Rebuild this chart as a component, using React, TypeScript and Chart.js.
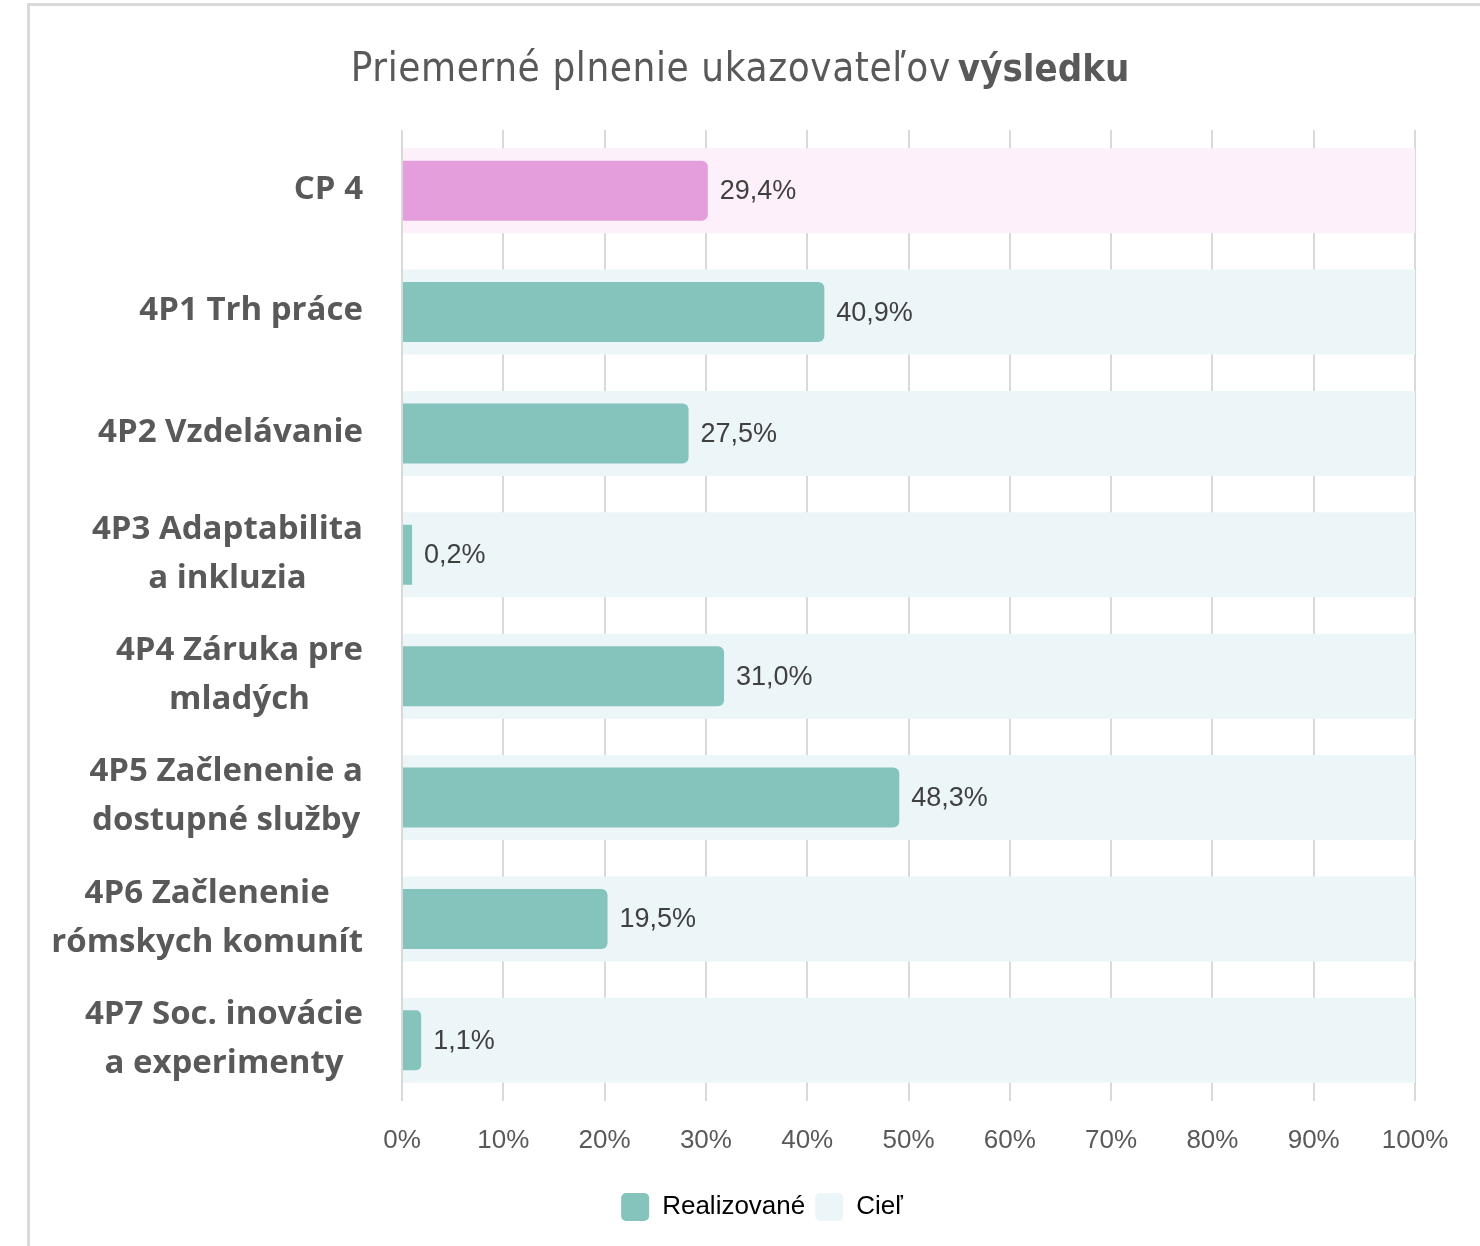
import React, { useEffect, useRef } from 'react';
import { Chart, registerables } from 'chart.js';

Chart.register(...registerables);

// ---------- DATA ----------
const categories: string[][] = [
  ['CP 4'],
  ['4P1 Trh práce'],
  ['4P2 Vzdelávanie'],
  ['4P3 Adaptabilita', 'a inkluzia'],
  ['4P4 Záruka pre', 'mladých'],
  ['4P5 Začlenenie a', 'dostupné služby'],
  ['4P6 Začlenenie', 'rómskych komunít'],
  ['4P7 Soc. inovácie', 'a experimenty'],
];
const realizedValues = [29.4, 40.9, 27.5, 0.2, 31.0, 48.3, 19.5, 1.1];
const targetValues = [100, 100, 100, 100, 100, 100, 100, 100];
const seriesNames = ['Realizované', 'Cieľ'];
const titleNormal = 'Priemerné plnenie ukazovateľov';
const titleBold = 'výsledku';

// ---------- STYLE ----------
const TEAL = '#85C4BD';
const PINK = '#E49EDC';
const TEAL_BG = '#ECF5F8';
const PINK_BG = '#FDF0FA';
const realizedColors = realizedValues.map((_, i) => (i === 0 ? PINK : TEAL));
const targetColors = targetValues.map((_, i) => (i === 0 ? PINK_BG : TEAL_BG));

const TITLE_FONT = "'Liberation Sans Narrow', 'DejaVu Sans Condensed', 'Liberation Sans', sans-serif";
const LABEL_FONT = "'Open Sans', 'Noto Sans', sans-serif";
const NUM_FONT = "'Liberation Sans', Arial, sans-serif";

const fmt = (v: number) => v.toFixed(1).replace('.', ',') + '%';

const titlePlugin = {
  id: 'customTitle',
  afterDraw(chart: any) {
    const ctx = chart.ctx;
    ctx.save();
    ctx.fillStyle = '#595959';
    ctx.textBaseline = 'middle';
    ctx.textAlign = 'left';
    const normalFont = `400 40px ${TITLE_FONT}`;
    const boldFont = `700 38px ${TITLE_FONT}`;
    ctx.font = normalFont;
    try { (ctx as any).letterSpacing = '0.6px'; } catch (e) {}
    const w1 = ctx.measureText(titleNormal).width;
    try { (ctx as any).letterSpacing = '0px'; } catch (e) {}
    ctx.font = boldFont;
    const w2 = ctx.measureText(titleBold).width;
    const gap = 7;
    const total = w1 + gap + w2;
    const x0 = chart.width / 2 - total / 2;
    const y = 71;
    ctx.font = normalFont;
    try { (ctx as any).letterSpacing = '0.6px'; } catch (e) {}
    ctx.fillText(titleNormal, x0, y);
    try { (ctx as any).letterSpacing = '0px'; } catch (e) {}
    ctx.font = boldFont;
    ctx.fillText(titleBold, x0 + w1 + gap, y);
    ctx.restore();
  },
};

const yLabelPlugin = {
  id: 'yLabels',
  afterDraw(chart: any) {
    const ctx = chart.ctx;
    const yScale = chart.scales.y;
    const labels = chart.data.labels as string[][];
    const right = 363;
    const lh = 49;
    ctx.save();
    ctx.fillStyle = '#595959';
    ctx.font = `700 33px ${LABEL_FONT}`;
    ctx.textBaseline = 'middle';
    labels.forEach((lines, i) => {
      const yc = yScale.getPixelForValue(i) - 1;
      const maxW = Math.max(...lines.map((l) => ctx.measureText(l).width));
      const cx = right - maxW / 2;
      const startY = yc - ((lines.length - 1) * lh) / 2;
      lines.forEach((l, j) => {
        if (lines.length === 1) {
          ctx.textAlign = 'right';
          ctx.fillText(l, right, startY);
        } else {
          ctx.textAlign = 'center';
          ctx.fillText(l, cx, startY + j * lh);
        }
      });
    });
    ctx.restore();
  },
};

const valueLabelPlugin = {
  id: 'valueLabels',
  afterDatasetsDraw(chart: any) {
    const ctx = chart.ctx;
    const xScale = chart.scales.x;
    const yScale = chart.scales.y;
    ctx.save();
    ctx.fillStyle = '#404040';
    ctx.font = `400 27px ${NUM_FONT}`;
    ctx.textBaseline = 'middle';
    ctx.textAlign = 'left';
    (chart.data.datasets[0].data as number[]).forEach((v, i) => {
      const x = xScale.getPixelForValue(v) + 20;
      const y = yScale.getPixelForValue(i) + 1;
      ctx.fillText(fmt(v), x, y);
    });
    ctx.restore();
  },
};

export default function App() {
  const ref = useRef<HTMLCanvasElement | null>(null);

  useEffect(() => {
    if (!ref.current) return;
    const chart = new Chart(ref.current, {
      type: 'bar',
      data: {
        labels: categories as any,
        datasets: [
          {
            label: seriesNames[0],
            data: realizedValues,
            backgroundColor: realizedColors,
            borderWidth: 0,
            borderRadius: 6,
            borderSkipped: 'start',
            inflateAmount: 8,
            clip: { left: -1, top: 0, right: 0, bottom: 0 },
            grouped: false,
            barPercentage: 0.362,
            categoryPercentage: 1,
          } as any,
          {
            label: seriesNames[1],
            data: targetValues,
            backgroundColor: targetColors,
            borderWidth: 0,
            borderRadius: 0,
            inflateAmount: 0,
            clip: { left: -1, top: 0, right: 0, bottom: 0 },
            grouped: false,
            barPercentage: 0.7,
            categoryPercentage: 1,
          } as any,
        ],
      },
      options: {
        indexAxis: 'y',
        responsive: false,
        animation: false,
        maintainAspectRatio: false,
        layout: { padding: { left: 109, right: 65, top: 130, bottom: 15 } },
        scales: {
          x: {
            min: 0,
            max: 100,
            ticks: {
              stepSize: 10,
              callback: (v: any) => `${v}%`,
              color: '#595959',
              font: { family: NUM_FONT, size: 26 },
              padding: 24,
              maxRotation: 0,
            },
            grid: { color: '#D9D9D9', lineWidth: 2, drawTicks: false },
            border: { display: false },
            afterFit: (s: any) => {
              s.height = 82;
            },
          },
          y: {
            ticks: { display: false },
            grid: { display: false },
            border: { display: false },
            afterFit: (s: any) => {
              s.width = 293;
            },
          },
        },
        plugins: {
          title: { display: false },
          tooltip: { enabled: false },
          legend: {
            position: 'bottom',
            labels: {
              boxWidth: 28,
              boxHeight: 28,
              useBorderRadius: true,
              borderRadius: 5,
              padding: 10,
              color: '#595959',
              font: { family: NUM_FONT, size: 26 },
              generateLabels: () => [
                { text: seriesNames[0], fillStyle: TEAL, strokeStyle: TEAL, lineWidth: 0, datasetIndex: 0, borderRadius: 5 },
                { text: seriesNames[1], fillStyle: TEAL_BG, strokeStyle: TEAL_BG, lineWidth: 0, datasetIndex: 1, borderRadius: 5 },
              ] as any,
            },
          },
        },
      },
      plugins: [titlePlugin, yLabelPlugin, valueLabelPlugin],
    });
    return () => chart.destroy();
  }, []);

  return (
    <div style={{ position: 'absolute', left: 0, top: 0, width: 1480, height: 1246, background: '#fff', overflow: 'hidden' }}>
      <div
        style={{
          position: 'absolute',
          left: 27,
          top: 3,
          width: 1480,
          height: 1246,
          borderLeft: '3px solid #D9D9D9',
          borderTop: '3px solid #D9D9D9',
        }}
      />
      <canvas ref={ref} width={1480} height={1246} style={{ position: 'absolute', left: 0, top: 0, width: 1480, height: 1246 }} />
    </div>
  );
}
